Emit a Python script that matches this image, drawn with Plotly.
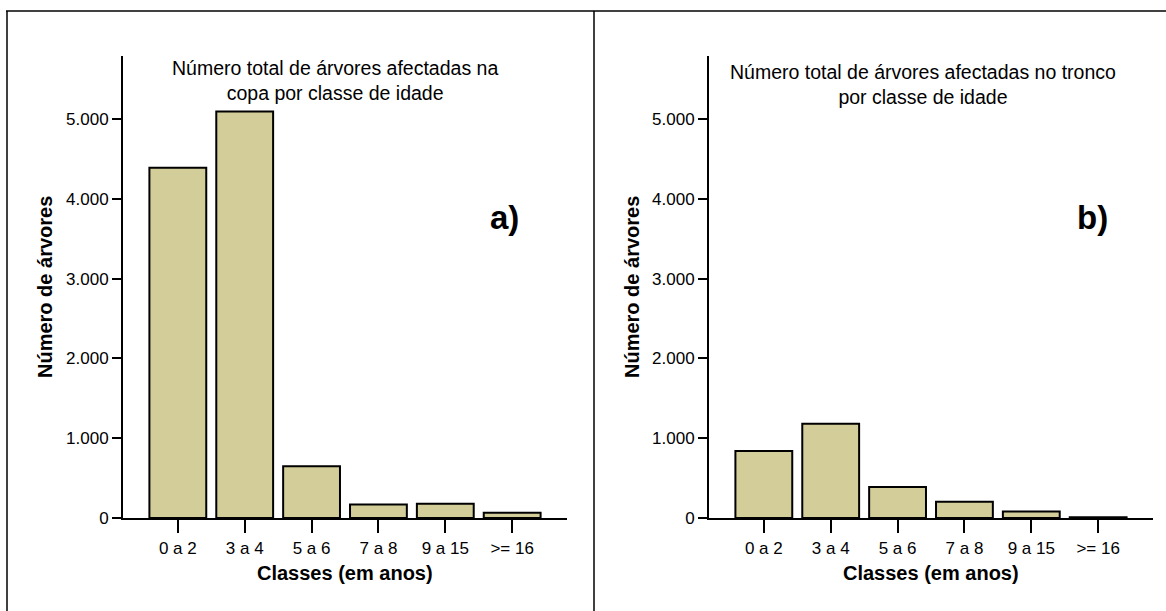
import plotly.graph_objects as go

categories = ["0 a 2", "3 a 4", "5 a 6", "7 a 8", "9 a 15", ">= 16"]
copa = [4390, 5095, 650, 170, 180, 65]
tronco = [840, 1180, 390, 205, 80, 10]
ytickvals = [0, 1000, 2000, 3000, 4000, 5000]

W, H = 1166, 611
FONT = "Liberation Sans, Arial, sans-serif"
BAR_COLOR = "#D3CE99"


def px(x):
    return x / W


def py(y):
    return 1 - y / H


fig = go.Figure()
fig.add_trace(go.Bar(x=categories, y=copa, xaxis="x", yaxis="y",
                     marker=dict(color=BAR_COLOR, line=dict(color="black", width=2)),
                     showlegend=False))
fig.add_trace(go.Bar(x=categories, y=tronco, xaxis="x2", yaxis="y2",
                     marker=dict(color=BAR_COLOR, line=dict(color="black", width=2)),
                     showlegend=False))

ymax = (518 - 56) / 79.8 * 1000

xcommon = dict(showline=True, linewidth=2, linecolor="black", ticks="outside",
               ticklen=13, tickwidth=2, tickcolor="black", showgrid=False,
               zeroline=False, range=[-0.82, 5.82], fixedrange=True, automargin=False,
               ticklabelstandoff=1,
               tickfont=dict(family=FONT, size=17, color="black"))
ycommon = dict(showline=True, linewidth=2, linecolor="black", ticks="outside",
               ticklen=9, tickwidth=2, tickcolor="black", showgrid=False,
               zeroline=False, range=[0, ymax], tickvals=ytickvals,
               tickformat=",d", fixedrange=True, automargin=False,
               tickfont=dict(family=FONT, size=17, color="black"))

ydom = [py(518), py(56)]
fig.update_layout(
    template="none",
    width=W, height=H,
    margin=dict(l=0, r=0, t=0, b=0, pad=0),
    paper_bgcolor="white", plot_bgcolor="white",
    separators=",.",
    bargap=0.15,
    xaxis=dict(domain=[px(123), px(567)], anchor="y", **xcommon),
    yaxis=dict(domain=ydom, anchor="x", **ycommon),
    xaxis2=dict(domain=[px(709), px(1153)], anchor="y2", **xcommon),
    yaxis2=dict(domain=ydom, anchor="x2", **ycommon),
)

ann = []


def add(text, x, y, size, angle=0):
    ann.append(dict(text=text, x=px(x), y=py(y), xref="paper", yref="paper",
                    xanchor="center", yanchor="middle", showarrow=False,
                    textangle=angle, align="center",
                    font=dict(family=FONT, size=size, color="black")))


# chart titles
add("Número total de árvores afectadas na<br>copa por classe de idade", 335, 81, 19.5)
add("Número total de árvores afectadas no tronco<br>por classe de idade", 923, 85, 19.5)
# panel letters
add("<b>a)</b>", 504, 218, 33)
add("<b>b)</b>", 1092, 218, 33)
# axis titles
for cx in (345, 931):
    add("<b>Classes (em anos)</b>", cx, 573, 20)
for cx in (45, 632):
    add("<b>Número de árvores</b>", cx, 287, 20, -90)
fig.update_layout(annotations=ann)

# frame lines
line = dict(color="black", width=1.5)
shapes = [
    dict(type="line", xref="paper", yref="paper", x0=px(6), x1=1, y0=py(11), y1=py(11), line=line),
    dict(type="line", xref="paper", yref="paper", x0=px(7), x1=px(7), y0=py(11), y1=0, line=line),
    dict(type="line", xref="paper", yref="paper", x0=px(594), x1=px(594), y0=py(11), y1=0, line=line),
]
fig.update_layout(shapes=shapes)

fig.write_html("out.html")
